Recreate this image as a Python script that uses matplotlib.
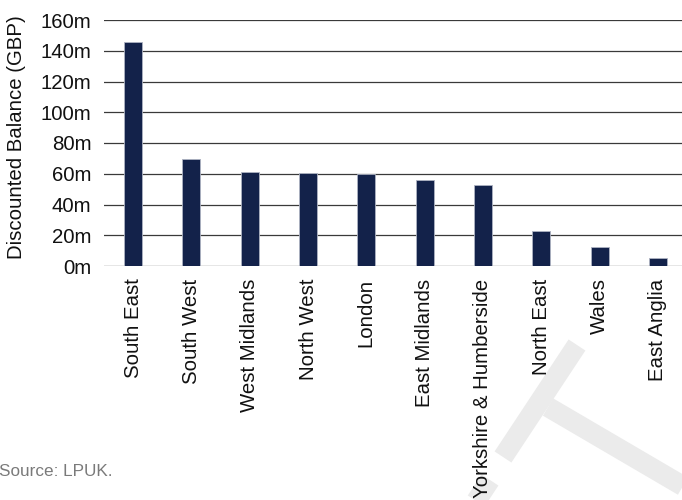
import numpy as np
import matplotlib
matplotlib.use("Agg")
import matplotlib.pyplot as plt

plt.rcParams['font.family'] = ['Liberation Sans', 'DejaVu Sans']

# discounted balance by region, GBP millions
regions = ['South East', 'South West', 'West Midlands', 'North West', 'London',
           'East Midlands', 'Yorkshire & Humberside', 'North East', 'Wales',
           'East Anglia']
balance = [146, 69.4, 60.9, 60.3, 59.8, 55.7, 52.5, 22.8, 12.4, 5.2]
yticks = [0, 20, 40, 60, 80, 100, 120, 140, 160]

W, H = 682, 500
fig = plt.figure(figsize=(W / 100, H / 100), dpi=100)

# faint watermark strokes behind everything, in pixel space
bg = fig.add_axes([0, 0, 1, 1], zorder=0)
bg.set_xlim(0, W)
bg.set_ylim(H, 0)
bg.axis('off')
wm = dict(color='#ebebeb', lw=14.5, solid_capstyle='butt')
bg.plot([577, 503], [345, 457], **wm)
bg.plot([490, 467], [480, 515], **wm)
bg.plot([548, 700], [407, 496], **wm)

ax = fig.add_axes([104 / W, 1 - 266 / H, 583 / W, 246 / H], zorder=1)
ax.set_facecolor('none')
x = np.arange(len(regions))
ax.bar(x, balance, width=0.31, color='#13224a', edgecolor='#aeb3c2',
       linewidth=0.6, zorder=3)

ax.set_xlim(-0.5, len(regions) - 0.5)
ax.set_ylim(0, 160)
ax.set_yticks(yticks)
ax.set_yticklabels(['%dm' % v for v in yticks])
ax.set_xticks(x)
ax.set_xticklabels(regions, rotation=90)
ax.yaxis.grid(True, color='#3a3a3a', linewidth=0.9)
ax.set_axisbelow(True)
for s in ax.spines.values():
    s.set_visible(False)
ax.tick_params(axis='both', length=0, labelsize=14.7, colors='#111111')
ax.tick_params(axis='y', pad=9)
ax.tick_params(axis='x', pad=9)

fig.text(17 / W, 1 - 137 / H, 'Discounted Balance (GBP)', rotation=90,
         ha='center', va='center', fontsize=14.7, color='#111111')
fig.text(-1 / W, 1 - 472 / H, 'Source: LPUK.', ha='left', va='center',
         fontsize=12.3, color='#7a7a7a')

fig.savefig('out.png', dpi=100)
